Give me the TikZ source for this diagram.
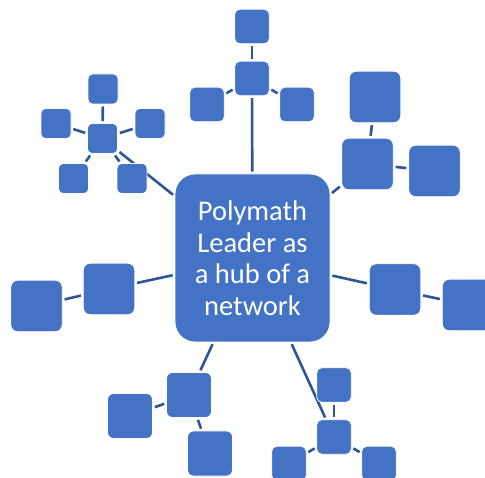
\documentclass[tikz,border=0pt]{standalone}
\usepackage{fontspec}
\setmainfont{Carlito}
\usetikzlibrary{backgrounds}
\definecolor{boxblue}{HTML}{4472C4}
\definecolor{linkblue}{HTML}{2F5597}
\tikzset{
  box/.style={fill=boxblue, draw=white, line width=0.8pt, inner sep=0pt,
              rectangle, minimum width=#1, minimum height=#1},
  boxA/.style={box=30pt, rounded corners=4.5pt},
  boxB/.style={box=34.5pt, rounded corners=5pt},
  boxC/.style={box=45pt, rounded corners=6pt},
  boxD/.style={box=51.5pt, rounded corners=7pt},
  link/.style={draw=linkblue, line width=2.6pt, shorten >=2pt, shorten <=2pt},
}
\begin{document}
\begin{tikzpicture}[x=1pt,y=-1pt]
\useasboundingbox (0,0) rectangle (485,478);
\clip (0,0) rectangle (485,478);

% central hub
\node[fill=boxblue, draw=white, line width=0.8pt, rounded corners=20pt,
      minimum width=155pt, minimum height=168pt, inner sep=0pt,
      text=white, align=center,
      font=\fontsize{28.5pt}{31.5pt}\selectfont] (hub) at (252.5,258)
  {Polymath\\Leader as\\a hub of a\\network};

% top cluster
\node[boxB] (t1) at (252,26.5) {};
\node[boxB] (tc) at (252,78.5) {};
\node[boxB] (tl) at (207,104.5) {};
\node[boxB] (tr) at (297,104.5) {};

% upper-left cluster
\node[boxA] (ulTop) at (103,89) {};
\node[boxA] (ulC) at (102.5,138.5) {};
\node[boxA] (ulL) at (56,123.5) {};
\node[boxA] (ulR) at (150,123.5) {};
\node[boxA] (ulBL) at (73.5,178.5) {};
\node[boxA] (ulBR) at (132,178.5) {};

% upper-right cluster
\node[boxD] (urTop) at (375,97) {};
\node[boxD] (urC) at (367.5,164) {};
\node[boxD] (urR) at (434.5,171) {};

% left pair
\node[boxD] (lIn) at (109,289) {};
\node[boxD] (lOut) at (36.5,306) {};

% right pair
\node[boxD] (rIn) at (395,289.5) {};
\node[boxD] (rOut) at (468,305) {};

% lower-left cluster
\node[boxC] (llC) at (189,395) {};
\node[boxC] (llL) at (130,416) {};
\node[boxC] (llB) at (210,453.5) {};

% lower-right cluster
\node[boxB] (lrTop) at (334,385) {};
\node[boxB] (lrC) at (334,437) {};
\node[boxB] (lrL) at (289,463.5) {};
\node[boxB] (lrR) at (379,463.5) {};

\begin{pgfonlayer}{background}
  % spokes from the hub
  \draw[link] (hub) -- (tc);
  \draw[link] (hub) -- (ulC);
  \draw[link] (hub) -- (urC);
  \draw[link] (hub) -- (lIn);
  \draw[link] (hub) -- (rIn);
  \draw[link] (hub) -- (llC);
  \draw[link] (hub) -- (lrC);
  % top cluster
  \draw[link] (tc) -- (t1);
  \draw[link] (tc) -- (tl);
  \draw[link] (tc) -- (tr);
  % upper-left cluster
  \draw[link] (ulC) -- (ulTop);
  \draw[link] (ulC) -- (ulL);
  \draw[link] (ulC) -- (ulR);
  \draw[link] (ulC) -- (ulBL);
  \draw[link] (ulC) -- (ulBR);
  % upper-right cluster
  \draw[link] (urC) -- (urTop);
  \draw[link] (urC) -- (urR);
  % pairs
  \draw[link] (lIn) -- (lOut);
  \draw[link] (rIn) -- (rOut);
  % lower-left cluster
  \draw[link] (llC) -- (llL);
  \draw[link] (llC) -- (llB);
  % lower-right cluster
  \draw[link] (lrC) -- (lrTop);
  \draw[link] (lrC) -- (lrL);
  \draw[link] (lrC) -- (lrR);
\end{pgfonlayer}
\end{tikzpicture}
\end{document}
